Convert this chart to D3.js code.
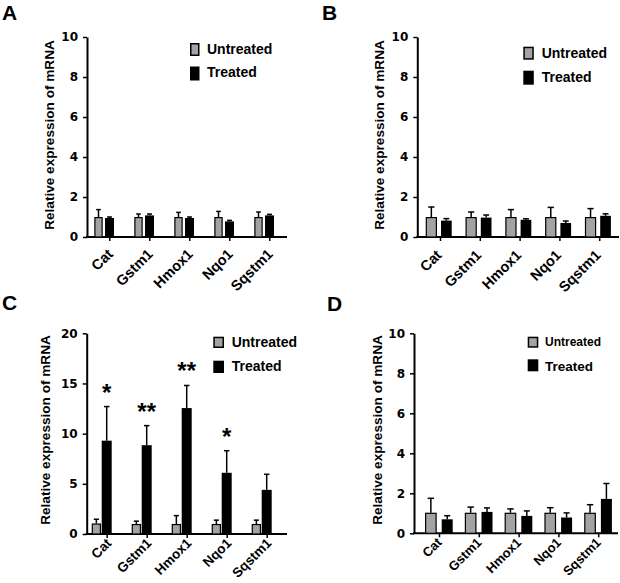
<!DOCTYPE html>
<html>
<head>
<meta charset="utf-8">
<script src="https://cdn.jsdelivr.net/npm/d3@7"></script>
<style>
  html, body { margin: 0; padding: 0; background: #fff; }
  svg { display: block; }
</style>
</head>
<body>
<svg id="chart" width="620" height="583"></svg>
<script>
// ---------- DATA ----------
const genes = ["Cat", "Gstm1", "Hmox1", "Nqo1", "Sqstm1"];
const seriesNames = ["Untreated", "Treated"];
const yTitle = "Relative expression of mRNA";

// Panel A
const aUntreated    = [1.0, 1.0, 1.0, 1.0, 1.0];
const aUntreatedErr = [0.37, 0.15, 0.23, 0.28, 0.25];
const aTreated      = [0.95, 1.08, 0.95, 0.78, 1.08];
const aTreatedErr   = [0.05, 0.07, 0.05, 0.05, 0.05];
const aTicks        = [0, 2, 4, 6, 8, 10];

// Panel B
const bUntreated    = [1.0, 1.0, 1.0, 1.0, 1.0];
const bUntreatedErr = [0.5, 0.25, 0.37, 0.48, 0.42];
const bTreated      = [0.82, 0.97, 0.86, 0.7, 1.06];
const bTreatedErr   = [0.1, 0.13, 0.05, 0.1, 0.1];
const bTicks        = [0, 2, 4, 6, 8, 10];

// Panel C
const cUntreated    = [1.05, 1.0, 1.0, 1.0, 1.0];
const cUntreatedErr = [0.42, 0.28, 0.83, 0.38, 0.38];
const cTreated      = [9.3, 8.85, 12.55, 6.1, 4.4];
const cTreatedErr   = [3.4, 1.95, 2.25, 2.2, 1.55];
const cStars        = ["*", "**", "**", "*", ""];
const cTicks        = [0, 5, 10, 15, 20];

// Panel D
const dUntreated    = [1.03, 1.03, 1.03, 1.03, 1.03];
const dUntreatedErr = [0.72, 0.28, 0.19, 0.25, 0.4];
const dTreated      = [0.7, 1.07, 0.87, 0.79, 1.72];
const dTreatedErr   = [0.18, 0.2, 0.25, 0.23, 0.77];
const dTicks        = [0, 2, 4, 6, 8, 10];

// ---------- LAYOUT ----------
const panels = [
  { label: "A", lx: 2, ly: 20,
    axisX: 87, y0: 237, yTop: 37, yMax: 10, xEnd: 287, tick0: 109.3, step: 40,
    u: [-15, 8.4], t: [-4.3, 9], labDx: 4, labDy: 18, labFs: 14.5,
    titleX: 54, titleY: 135,
    leg: { rx: 190, ry1: 43, ry2: 66.5, rw: 9.5, rh: 13, tx: 207, ty1: 54.3, ty2: 77.3, fs1: 14, fs2: 14 },
    un: aUntreated, ue: aUntreatedErr, tr: aTreated, te: aTreatedErr, ticks: aTicks, stars: null },
  { label: "B", lx: 322, ly: 20,
    axisX: 417.3, y0: 237, yTop: 37, yMax: 10, xEnd: 619, tick0: 440, step: 39.8,
    u: [-14.3, 11.3], t: [1, 10.7], labDx: 2, labDy: 19, labFs: 14.5,
    titleX: 384, titleY: 135,
    leg: { rx: 523.3, ry1: 46.7, ry2: 70.7, rw: 10.5, rh: 13, tx: 541.7, ty1: 58.3, ty2: 81.7, fs1: 14, fs2: 14 },
    un: bUntreated, ue: bUntreatedErr, tr: bTreated, te: bTreatedErr, ticks: bTicks, stars: null },
  { label: "C", lx: 2, ly: 310,
    axisX: 86.7, y0: 534, yTop: 333.3, yMax: 20, xEnd: 287, tick0: 106.7, step: 40,
    u: [-15, 9.3], t: [-5, 10], labDx: 5, labDy: 10, labFs: 13.5,
    titleX: 50, titleY: 430,
    leg: { rx: 213.3, ry1: 336.7, ry2: 360.7, rw: 10.7, rh: 11.3, tx: 231.7, ty1: 347.3, ty2: 371, fs1: 14, fs2: 14 },
    un: cUntreated, ue: cUntreatedErr, tr: cTreated, te: cTreatedErr, ticks: cTicks, stars: cStars },
  { label: "D", lx: 327, ly: 311,
    axisX: 414, y0: 533.3, yTop: 333.3, yMax: 10, xEnd: 618, tick0: 439, step: 39.8,
    u: [-14, 11.7], t: [2.7, 11], labDx: 3, labDy: 10, labFs: 13,
    titleX: 381.5, titleY: 430,
    leg: { rx: 527.7, ry1: 336.7, ry2: 359.3, rw: 10.6, rh: 11, tx: 545, ty1: 345.7, ty2: 370.7, fs1: 12, fs2: 13.5 },
    un: dUntreated, ue: dUntreatedErr, tr: dTreated, te: dTreatedErr, ticks: dTicks, stars: null }
];

const FONT = "'Liberation Sans', Arial, Helvetica, sans-serif";
const TICKFONT = "'DejaVu Sans', Verdana, sans-serif";
const GRAY = "#a3a3a3";

const svg = d3.select("#chart");
svg.append("rect").attr("width", 620).attr("height", 583).attr("fill", "#fff");

panels.forEach(p => {
  const g = svg.append("g");

  const y = d3.scaleLinear().domain([0, p.yMax]).range([p.y0, p.yTop]);
  const x = d3.scalePoint().domain(genes).range([p.tick0, p.tick0 + p.step * (genes.length - 1)]);

  // panel label
  g.append("text").attr("x", p.lx).attr("y", p.ly)
    .attr("font-family", FONT)
    .attr("font-weight", 700).attr("font-size", 21).attr("fill", "#000")
    .text(p.label);

  // y axis
  const yAxis = d3.axisLeft(y).tickValues(p.ticks).tickSize(4).tickSizeOuter(0).tickPadding(5);
  const ya = g.append("g").attr("transform", `translate(${p.axisX},0)`).call(yAxis);
  ya.select(".domain").attr("stroke", "#000").attr("stroke-width", 2);
  ya.selectAll(".tick line").attr("stroke", "#000").attr("stroke-width", 1.5);
  ya.selectAll(".tick text").attr("font-family", TICKFONT).attr("font-weight", 700)
    .attr("font-size", 12).attr("fill", "#000");

  // x axis line + ticks
  g.append("line").attr("x1", p.axisX - 1).attr("x2", p.xEnd)
    .attr("y1", p.y0).attr("y2", p.y0).attr("stroke", "#000").attr("stroke-width", 2);
  const xAxis = d3.axisBottom(x).tickSize(4).tickSizeOuter(0);
  const xa = g.append("g").attr("transform", `translate(0,${p.y0})`).call(xAxis);
  xa.select(".domain").remove();
  xa.selectAll(".tick line").attr("stroke", "#000").attr("stroke-width", 1.5);
  xa.selectAll(".tick text")
    .attr("font-family", FONT).attr("font-weight", 700).attr("font-size", p.labFs).attr("fill", "#000")
    .attr("text-anchor", "end").attr("dy", null)
    .attr("x", p.labDx).attr("y", p.labDy)
    .attr("transform", `rotate(-45 ${p.labDx} ${p.labDy})`);

  // y title
  g.append("text")
    .attr("transform", `translate(${p.titleX},${p.titleY}) rotate(-90)`)
    .attr("text-anchor", "middle")
    .attr("font-family", FONT).attr("font-weight", 700).attr("font-size", 13.6).attr("fill", "#000")
    .text(yTitle);

  // bars
  const rows = genes.map((gname, i) => ({ gene: gname, un: p.un[i], ue: p.ue[i], tr: p.tr[i], te: p.te[i], star: p.stars ? p.stars[i] : "" }));

  const drawErr = (cx, v, e, w) => {
    g.append("line").attr("x1", cx).attr("x2", cx).attr("y1", y(v)).attr("y2", y(v + e))
      .attr("stroke", "#000").attr("stroke-width", 1.5);
    g.append("line").attr("x1", cx - w / 2).attr("x2", cx + w / 2).attr("y1", y(v + e)).attr("y2", y(v + e))
      .attr("stroke", "#000").attr("stroke-width", 1.5);
  };

  rows.forEach(r => {
    const cx = x(r.gene);
    // untreated
    const ux = cx + p.u[0], uw = p.u[1];
    drawErr(ux + uw / 2, r.un, r.ue, uw * 0.55);
    g.append("rect").attr("x", ux + 0.6).attr("y", y(r.un) + 0.6)
      .attr("width", uw - 1.2).attr("height", y(0) - y(r.un) - 0.6)
      .attr("fill", GRAY).attr("stroke", "#000").attr("stroke-width", 1.2);
    // treated
    const tx = cx + p.t[0], tw = p.t[1];
    drawErr(tx + tw / 2, r.tr, r.te, tw * 0.55);
    g.append("rect").attr("x", tx).attr("y", y(r.tr))
      .attr("width", tw).attr("height", y(0) - y(r.tr))
      .attr("fill", "#000");
    if (r.star) {
      g.append("text").attr("x", tx + tw / 2).attr("y", y(r.tr + r.te) - 20 + 14)
        .attr("text-anchor", "middle")
        .attr("font-family", FONT).attr("font-weight", 700).attr("font-size", 24).attr("fill", "#000")
        .text(r.star);
    }
  });

  // legend
  const L = p.leg;
  g.append("rect").attr("x", L.rx + 0.75).attr("y", L.ry1 + 0.75).attr("width", L.rw - 1.5).attr("height", L.rh - 1.5)
    .attr("fill", GRAY).attr("stroke", "#000").attr("stroke-width", 1.5);
  g.append("rect").attr("x", L.rx).attr("y", L.ry2).attr("width", L.rw).attr("height", L.rh + 1)
    .attr("fill", "#000");
  g.append("text").attr("x", L.tx).attr("y", L.ty1)
    .attr("font-family", FONT).attr("font-weight", 700).attr("font-size", L.fs1).attr("fill", "#000")
    .text(seriesNames[0]);
  g.append("text").attr("x", L.tx).attr("y", L.ty2)
    .attr("font-family", FONT).attr("font-weight", 700).attr("font-size", L.fs2).attr("fill", "#000")
    .text(seriesNames[1]);
});
</script>
</body>
</html>
